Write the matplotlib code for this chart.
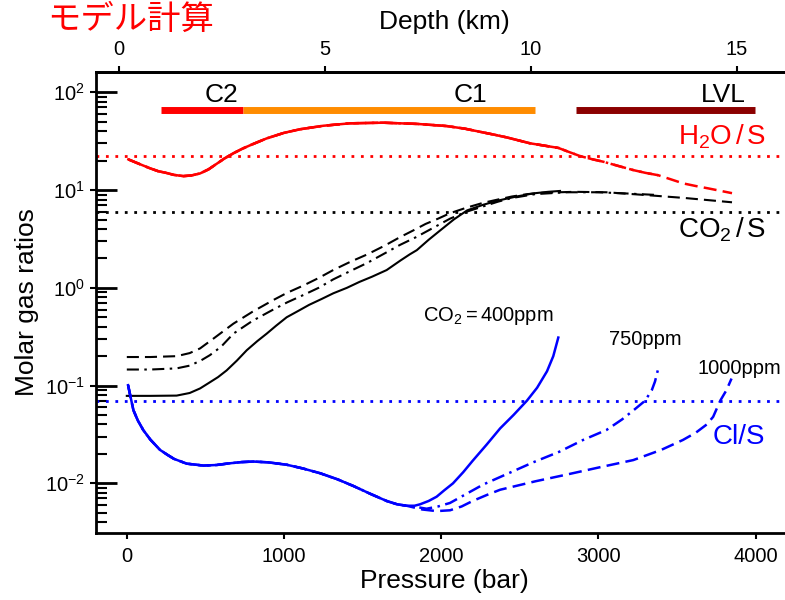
import matplotlib
matplotlib.use('Agg')
import matplotlib.pyplot as plt
from matplotlib.ticker import LogLocator, NullFormatter

plt.rcParams['font.family'] = ['Liberation Sans', 'DejaVu Sans']
plt.rcParams['mathtext.fontset'] = 'custom'
plt.rcParams['mathtext.rm'] = 'Liberation Sans'
plt.rcParams['mathtext.it'] = 'Liberation Sans:italic'
plt.rcParams['mathtext.bf'] = 'Liberation Sans:bold'

# --- data (pressure in bar, molar ratios) ---
# H2O/S
red_400_p = [10, 80, 148, 200, 250, 300, 360, 410, 466, 520, 570, 620, 678,
             735, 790, 890, 1000, 1102, 1250, 1420, 1630, 1850, 2034, 2150,
             2246, 2340, 2420, 2500, 2565, 2650, 2745]
red_400_v = [20.6, 18.5, 16.7, 15.6, 15.0, 14.3, 13.9, 14.1, 14.8, 16.3, 18.5,
             21.0, 23.8, 26.5, 29.0, 33.8, 38.5, 41.9, 45.5, 48.2, 48.9, 47.5,
             45.2, 42.5, 39.5, 36.8, 34.5, 32.0, 30.1, 28.6, 27.0]
red_750_p = red_400_p + [2820, 2883, 2960, 3031, 3130, 3223, 3300, 3380]
red_750_v = red_400_v + [24.3, 22.3, 20.7, 19.5, 17.6, 16.0, 15.0, 14.2]
red_1000_p = red_750_p + [3460, 3540, 3620, 3700, 3780, 3850]
red_1000_v = red_750_v + [12.9, 11.7, 11.0, 10.4, 9.8, 9.3]

# CO2/S
blk_400_p = [0, 150, 317, 400, 466, 520, 580, 635, 700, 763, 830, 890, 950,
             1017, 1090, 1160, 1240, 1314, 1400, 1480, 1560, 1653, 1740, 1800,
             1845, 1920, 1993, 2080, 2165, 2270, 2375, 2480, 2585, 2680, 2756]
blk_400_v = [0.0785, 0.0785, 0.079, 0.084, 0.0935, 0.106, 0.122, 0.143, 0.18,
             0.23, 0.285, 0.34, 0.41, 0.50, 0.58, 0.67, 0.77, 0.88, 1.0, 1.15,
             1.3, 1.52, 1.9, 2.2, 2.43, 3.1, 3.86, 5.0, 6.2, 7.1, 7.9, 8.6,
             9.25, 9.6, 9.8]
blk_750_p = [0, 150, 317, 400, 470, 529, 600, 678, 800, 932, 1020, 1120, 1220,
             1313, 1420, 1530, 1640, 1738, 1840, 1948, 2056, 2160, 2266, 2360,
             2450, 2600, 2800, 3000, 3200, 3380]
blk_750_v = [0.146, 0.146, 0.15, 0.16, 0.18, 0.205, 0.25, 0.34, 0.46, 0.6,
             0.71, 0.84, 1.0, 1.22, 1.48, 1.8, 2.25, 2.75, 3.3, 4.1, 5.1, 6.0,
             6.8, 7.6, 8.3, 9.1, 9.5, 9.5, 9.2, 8.9]
blk_1000_p = [0, 150, 317, 400, 466, 560, 678, 800, 932, 1020, 1120, 1220,
              1313, 1420, 1530, 1640, 1738, 1820, 1900, 1980, 2056, 2160, 2266,
              2360, 2450, 2550, 2650, 2850, 3050, 3300, 3550, 3850]
blk_1000_v = [0.196, 0.196, 0.2, 0.215, 0.24, 0.31, 0.43, 0.57, 0.75, 0.89,
              1.05, 1.26, 1.52, 1.84, 2.2, 2.7, 3.3, 3.85, 4.5, 5.1, 5.8, 6.6,
              7.4, 8.0, 8.6, 9.1, 9.4, 9.6, 9.5, 8.9, 8.3, 7.5]

# Cl/S
blu_400_p = [8, 25, 42, 70, 105, 150, 211, 260, 300, 381, 487, 570, 650, 730,
             805, 900, 1017, 1120, 1229, 1340, 1441, 1550, 1653, 1720, 1780,
             1830, 1865, 1920, 1971, 2020, 2075, 2140, 2200, 2290, 2375, 2460,
             2545, 2610, 2673, 2713, 2745]
blu_400_v = [0.101, 0.075, 0.056, 0.044, 0.035, 0.028, 0.022, 0.0195, 0.0178,
             0.0159, 0.0152, 0.0154, 0.0160, 0.0165, 0.0167, 0.0164, 0.0155,
             0.0142, 0.0127, 0.0110, 0.0094, 0.0078, 0.0066, 0.0061, 0.0059,
             0.0059, 0.0061, 0.0066, 0.0073, 0.0085, 0.0100, 0.013, 0.017,
             0.025, 0.0365, 0.050, 0.070, 0.095, 0.14, 0.20, 0.31]
blu_750_p = blu_400_p[:25] + [1850, 1907, 1980, 2056, 2160, 2266, 2420, 2585,
                              2750, 2903, 3052, 3150, 3230, 3297, 3340, 3360,
                              3381]
blu_750_v = blu_400_v[:25] + [0.0057, 0.0055, 0.0058, 0.0063, 0.0078, 0.0097,
                              0.0125, 0.0164, 0.021, 0.0278, 0.0352, 0.045,
                              0.057, 0.07, 0.09, 0.11, 0.15]
blu_1000_p = blu_400_p[:25] + [1880, 1971, 2056, 2130, 2200, 2290, 2375, 2600,
                               2799, 3000, 3222, 3400, 3538, 3620, 3689, 3730,
                               3775, 3815, 3847]
blu_1000_v = blu_400_v[:25] + [0.0054, 0.0052, 0.0053, 0.0058, 0.0066, 0.0076,
                               0.0086, 0.0105, 0.0123, 0.0145, 0.0173, 0.022,
                               0.0278, 0.033, 0.040, 0.0479, 0.07, 0.09, 0.118]

# reference (observed) ratios
obs_h2o = 22.4
obs_co2 = 6.0
obs_cl = 0.07

# depth zones along the top (pressure range, colour, label, label pressure)
zones = [((218, 739), '#FF0000', 'C2', 600),
         ((739, 2598), '#FF8C00', 'C1', 2183),
         ((2859, 3997), '#8B0000', 'LVL', 3795)]
zone_y = 66.0

depth_ticks = [0, 5, 10, 15]

dash = (0, (5.2, 2.5))
dashdot = (0, (5.2, 2.2, 1.0, 2.2))
dotted = (0, (1, 2.4))

fig = plt.figure(figsize=(7.85, 6), dpi=100)
ax = fig.add_axes([96/785, 1 - 533/600, (793 - 96)/785, (533 - 72)/600])
ax.set_yscale('log')
ax.set_xlim(-196, 4238)
ax.set_ylim(10**-2.508, 10**2.208)

# observed ratio lines
ax.axhline(obs_h2o, color='#FF0000', lw=2, ls=dotted)
ax.axhline(obs_co2, color='black', lw=2, ls=dotted)
ax.axhline(obs_cl, color='#0000FF', lw=2, ls=dotted)

# model curves
ax.plot(red_1000_p, red_1000_v, color='#FF0000', lw=1.8, ls=dash)
ax.plot(red_750_p, red_750_v, color='#FF0000', lw=1.8, ls=dashdot)
ax.plot(red_400_p, red_400_v, color='#FF0000', lw=1.8)
ax.plot(blk_1000_p, blk_1000_v, color='black', lw=1.5, ls=(0, (5.8, 2.9)))
ax.plot(blk_750_p, blk_750_v, color='black', lw=1.5, ls=(0, (5.8, 2.6, 1.2, 2.6)))
ax.plot(blk_400_p, blk_400_v, color='black', lw=1.5)
ax.plot(blu_1000_p, blu_1000_v, color='#0000FF', lw=1.8, ls=dash)
ax.plot(blu_750_p, blu_750_v, color='#0000FF', lw=1.8, ls=dashdot)
ax.plot(blu_400_p, blu_400_v, color='#0000FF', lw=1.8)

# zone bars
for (p0, p1), c, lab, px in zones:
    ax.plot([p0, p1], [zone_y, zone_y], color=c, lw=5, solid_capstyle='butt')
    ax.text(px, 79.5, lab, ha='center', va='baseline', fontsize=19)

# curve labels
ax.text(3786, 34.9, r'$\mathrm{H_2O\,/\,S}$', color='#FF0000', fontsize=20,
        ha='center', va='center')
ax.text(3786, 3.9, r'$\mathrm{CO_2\,/\,S}$', color='black', fontsize=20,
        ha='center', va='center')
ax.text(3895, 0.0298, 'Cl/S', color='#0000FF', fontsize=20,
        ha='center', va='center')
ax.text(2298, 0.514, r'$\mathrm{CO_2 = 400ppm}$', fontsize=14.5,
        ha='center', va='center')
ax.text(3298, 0.299, '750ppm', fontsize=14.5, ha='center', va='center')
ax.text(3900, 0.151, '1000ppm', fontsize=14.5, ha='center', va='center')

# axes styling
for s in ax.spines.values():
    s.set_linewidth(2)
ax.spines['right'].set_visible(False)
ax.set_xticks([0, 1000, 2000, 3000, 4000])
ax.tick_params(axis='x', which='major', direction='out', length=4, width=1.5,
               labelsize=14.5, pad=6)
ax.tick_params(axis='x', which='minor', bottom=False)
ax.yaxis.set_major_locator(LogLocator(base=10, numticks=10))
ax.yaxis.set_minor_locator(LogLocator(base=10, subs=range(2, 10), numticks=20))
ax.yaxis.set_minor_formatter(NullFormatter())
ax.tick_params(axis='y', which='major', direction='in', length=15, width=2,
               labelsize=14.5, pad=8)
ax.tick_params(axis='y', which='minor', direction='in', length=8, width=1.5)

# short outward stubs on the major y ticks
ystub = ax.secondary_yaxis('left', functions=(lambda v: v, lambda v: v))
ystub.yaxis.set_major_locator(LogLocator(base=10, numticks=10))
ystub.yaxis.set_minor_locator(LogLocator(base=10, subs=[], numticks=10))
ystub.tick_params(axis='y', which='major', direction='out', length=4.5,
                  width=1.5, labelleft=False)
ystub.tick_params(axis='y', which='minor', length=0)
ystub.spines['left'].set_visible(False)

ax.set_xlabel('Pressure (bar)', fontsize=19, labelpad=2)
ax.set_ylabel('Molar gas ratios', fontsize=19, labelpad=4)

# depth axis on top
top = ax.secondary_xaxis('top', functions=(lambda p: (p + 48) / 262.0,
                                            lambda d: d * 262.0 - 48))
top.set_xticks(depth_ticks)
top.tick_params(direction='out', length=4, width=1.5, labelsize=14.5, pad=5)
top.spines['top'].set_linewidth(2)
top.set_xlabel('Depth (km)', fontsize=19, labelpad=8)

fig.text(47/785, 1 - 29/600, 'モデル計算', color='#FF0000', fontsize=24,
         family=['Noto Sans CJK JP', 'DejaVu Sans'], ha='left', va='baseline')

fig.savefig('out.png', dpi=100)
